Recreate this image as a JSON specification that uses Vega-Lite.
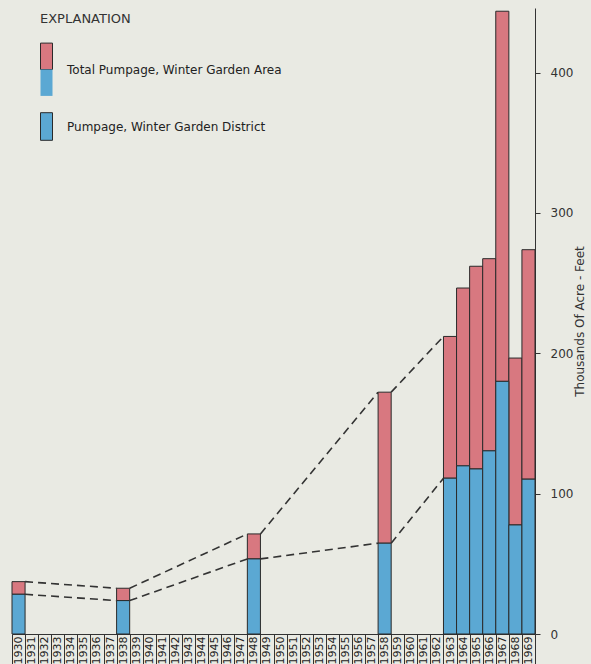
{
  "$schema": "https://vega.github.io/schema/vega-lite/v6.json",
  "width": 523,
  "height": 626,
  "autosize": {"type": "none"},
  "padding": {"left": 12, "top": 8, "right": 56, "bottom": 30},
  "background": "#e9eae3",
  "config": {
    "view": {"stroke": null},
    "font": "DejaVu Sans"
  },
  "data": {
    "values": [
      {"year": 1930, "total": 37.3, "district": 28.3},
      {"year": 1938, "total": 32.6, "district": 23.8},
      {"year": 1948, "total": 71.3, "district": 53.5},
      {"year": 1958, "total": 172.3, "district": 64.7},
      {"year": 1963, "total": 212, "district": 111},
      {"year": 1964, "total": 246.5, "district": 119.8},
      {"year": 1965, "total": 262, "district": 117.6},
      {"year": 1966, "total": 267.4, "district": 130.5},
      {"year": 1967, "total": 443.7, "district": 180},
      {"year": 1968, "total": 196.6, "district": 77.7},
      {"year": 1969, "total": 273.8, "district": 110.3}
    ]
  },
  "encoding": {
    "x": {
      "field": "year",
      "type": "ordinal",
      "scale": {
        "domain": [1930,1931,1932,1933,1934,1935,1936,1937,1938,1939,1940,1941,1942,1943,1944,1945,1946,1947,1948,1949,1950,1951,1952,1953,1954,1955,1956,1957,1958,1959,1960,1961,1962,1963,1964,1965,1966,1967,1968,1969],
        "paddingInner": 0,
        "paddingOuter": 0
      },
      "axis": {
        "title": null,
        "orient": "bottom",
        "labelAngle": -90,
        "labelFontSize": 11,
        "labelColor": "#222",
        "labelPadding": -28,
        "tickBand": "extent",
        "tickSize": 30,
        "tickColor": "#333",
        "domainColor": "#333",
        "labelFlush": false,
        "labelOverlap": false
      }
    }
  },
  "layer": [
    {
      "transform": [
        {"window": [
          {"op": "lead", "field": "year", "as": "next_year"},
          {"op": "lead", "field": "total", "as": "next_total"},
          {"op": "lead", "field": "district", "as": "next_district"}
        ], "sort": [{"field": "year"}]},
        {"filter": "datum.year <= 1958"}
      ],
      "layer": [
        {
          "mark": {"type": "rule", "strokeDash": [8, 5], "strokeWidth": 1.6, "color": "#333333"},
          "encoding": {
            "x": {"field": "year", "type": "ordinal", "bandPosition": 1},
            "x2": {"field": "next_year", "bandPosition": 0},
            "y": {"field": "total", "type": "quantitative"},
            "y2": {"field": "next_total"}
          }
        },
        {
          "mark": {"type": "rule", "strokeDash": [8, 5], "strokeWidth": 1.6, "color": "#333333"},
          "encoding": {
            "x": {"field": "year", "type": "ordinal", "bandPosition": 1},
            "x2": {"field": "next_year", "bandPosition": 0},
            "y": {"field": "district", "type": "quantitative"},
            "y2": {"field": "next_district"}
          }
        }
      ]
    },
    {
      "mark": {"type": "bar", "stroke": "#2a2a2a", "strokeWidth": 1},
      "encoding": {
        "y": {
          "field": "total",
          "type": "quantitative",
          "scale": {"domain": [0, 446], "nice": false},
          "axis": {
            "orient": "right",
            "values": [0, 100, 200, 300, 400],
            "grid": false,
            "title": "Thousands Of Acre - Feet",
            "titleAngle": 270,
            "titleFontSize": 12,
            "titleFontWeight": "normal",
            "titleColor": "#333",
            "titlePadding": 14,
            "labelFontSize": 12,
            "labelColor": "#333",
            "labelPadding": 10,
            "tickSize": 5,
            "tickColor": "#333",
            "domainColor": "#333"
          }
        },
        "y2": {"field": "district"},
        "color": {
          "datum": "Total Pumpage, Winter Garden Area",
          "type": "nominal",
          "scale": {
            "domain": ["Total Pumpage, Winter Garden Area", "Pumpage, Winter Garden District"],
            "range": ["#d87880", "#5ba8d3"]
          },
          "legend": {
            "orient": "none",
            "legendX": 28,
            "legendY": 5,
            "title": "EXPLANATION",
            "titleFontSize": 13,
            "titleFontWeight": "normal",
            "titleColor": "#333",
            "titlePadding": 31,
            "labelFontSize": 12,
            "labelColor": "#222",
            "labelOffset": 2,
            "labelLimit": 400,
            "symbolSize": 576,
            "symbolType": "M-1,-1H0V1H-1Z",
            "symbolStrokeColor": "#2a2a2a",
            "symbolStrokeWidth": 1,
            "symbolOpacity": 1,
            "rowPadding": 12,
            "encode": {
              "symbols": {
                "update": {
                  "shape": {"signal": "datum.index === 0 ? 'M-1,-2.2H0V0H-1ZM-1,2.2' : 'M-1,-1.15H0V1.15H-1Z'"}
                }
              }
            }
          }
        }
      }
    },
    {
      "mark": {"type": "bar", "stroke": "#2a2a2a", "strokeWidth": 1},
      "encoding": {
        "y": {"field": "district", "type": "quantitative"},
        "color": {"datum": "Pumpage, Winter Garden District", "type": "nominal"},
        "opacity": {
          "datum": 1,
          "type": "quantitative",
          "scale": {"domain": [0, 1], "range": [1, 1]},
          "legend": {
            "orient": "none",
            "legendX": 28,
            "legendY": 49,
            "title": null,
            "values": [1],
            "labelExpr": "''",
            "symbolSize": 576,
            "symbolType": "M-1,0H0V2.2H-1Z",
            "symbolFillColor": "#5ba8d3",
            "symbolStrokeColor": "#2a2a2a",
            "symbolStrokeWidth": 1,
            "symbolOpacity": 1,
            "encode": {
              "symbols": {
                "update": {
                  "stroke": {"value": "#2a2a2a"},
                  "strokeWidth": {"value": 1}
                }
              }
            }
          }
        }
      }
    }
  ]
}
